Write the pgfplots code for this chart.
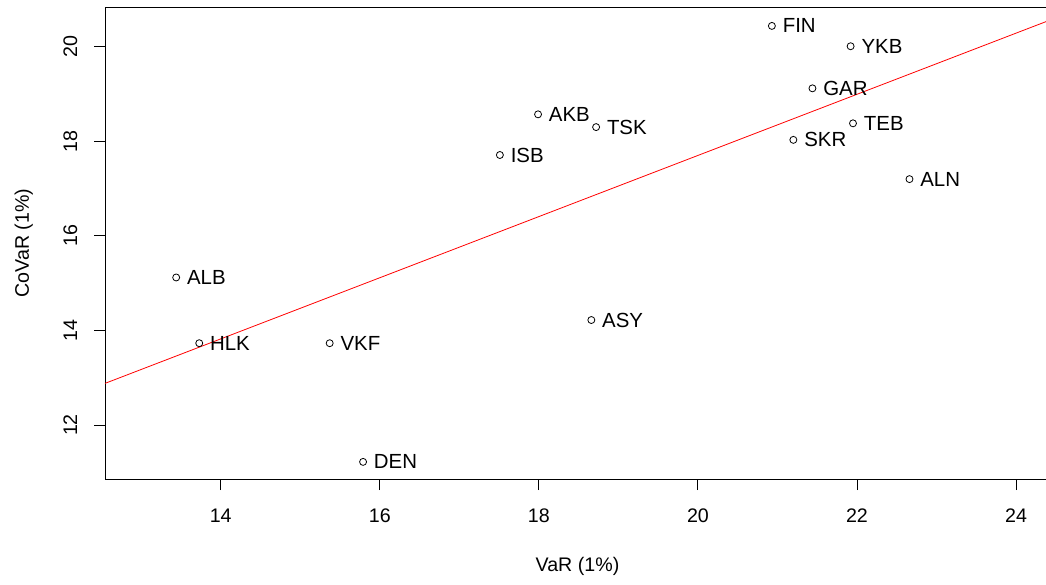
\documentclass[border=0pt]{standalone}
\usepackage{pgfplots}
\pgfplotsset{compat=1.18}
\usepackage{fontspec}
\setmainfont{Liberation Sans}
\pgfplotstableread{
x y label
20.93 20.44 FIN
21.92 20.01 YKB
21.44 19.12 GAR
21.95 18.38 TEB
21.20 18.03 SKR
22.66 17.20 ALN
17.99 18.57 AKB
18.72 18.30 TSK
17.51 17.71 ISB
13.44 15.12 ALB
13.73 13.73 HLK
15.37 13.73 VKF
18.66 14.22 ASY
15.79 11.22 DEN
}\banks
\begin{document}
\begin{tikzpicture}
\begin{axis}[
  at={(0,0)}, anchor=south west,
  scale only axis, width=945bp, height=472bp,
  xmin=12.545, xmax=24.427, ymin=10.858, ymax=20.84,
  xtick={14,16,18,20,22,24}, ytick={12,14,16,18,20},
  tick align=outside, major tick length=11bp,
  tick pos=left,
  axis line style={line width=0.9bp},
  every tick/.style={black, line width=0.9bp},
  /pgf/number format/assume math mode=true,
  ticklabel style={font=\fontsize{19.7}{22}\selectfont},
  xticklabel style={anchor=base, yshift=-32.7bp},
  yticklabel style={xshift=-17bp, rotate=90, anchor=base},
]
\addplot[red, line width=0.8bp] coordinates {(12.545,12.88) (24.43,20.565)};
\addplot[only marks, mark=o, mark size=3.5bp, mark options={line width=0.8bp, black},
  nodes near coords, point meta=explicit symbolic,
  nodes near coords align=horizontal,
  every node near coord/.append style={anchor=west, inner sep=0pt, xshift=10.5bp, font=\fontsize{20.5}{24}\selectfont, text=black}]
  table[x=x, y=y, meta=label] {\banks};
\end{axis}
\node[rotate=90, anchor=base, font=\fontsize{19.7}{22}\selectfont] at (-76bp, 236bp) {CoVaR (1\%)};
\node[anchor=base, font=\fontsize{19.7}{22}\selectfont] at (472.5bp, -92.5bp) {VaR (1\%)};
\pgfresetboundingbox
\path[use as bounding box] (-105bp,-106bp) rectangle (941bp,479bp);
\end{tikzpicture}
\end{document}
